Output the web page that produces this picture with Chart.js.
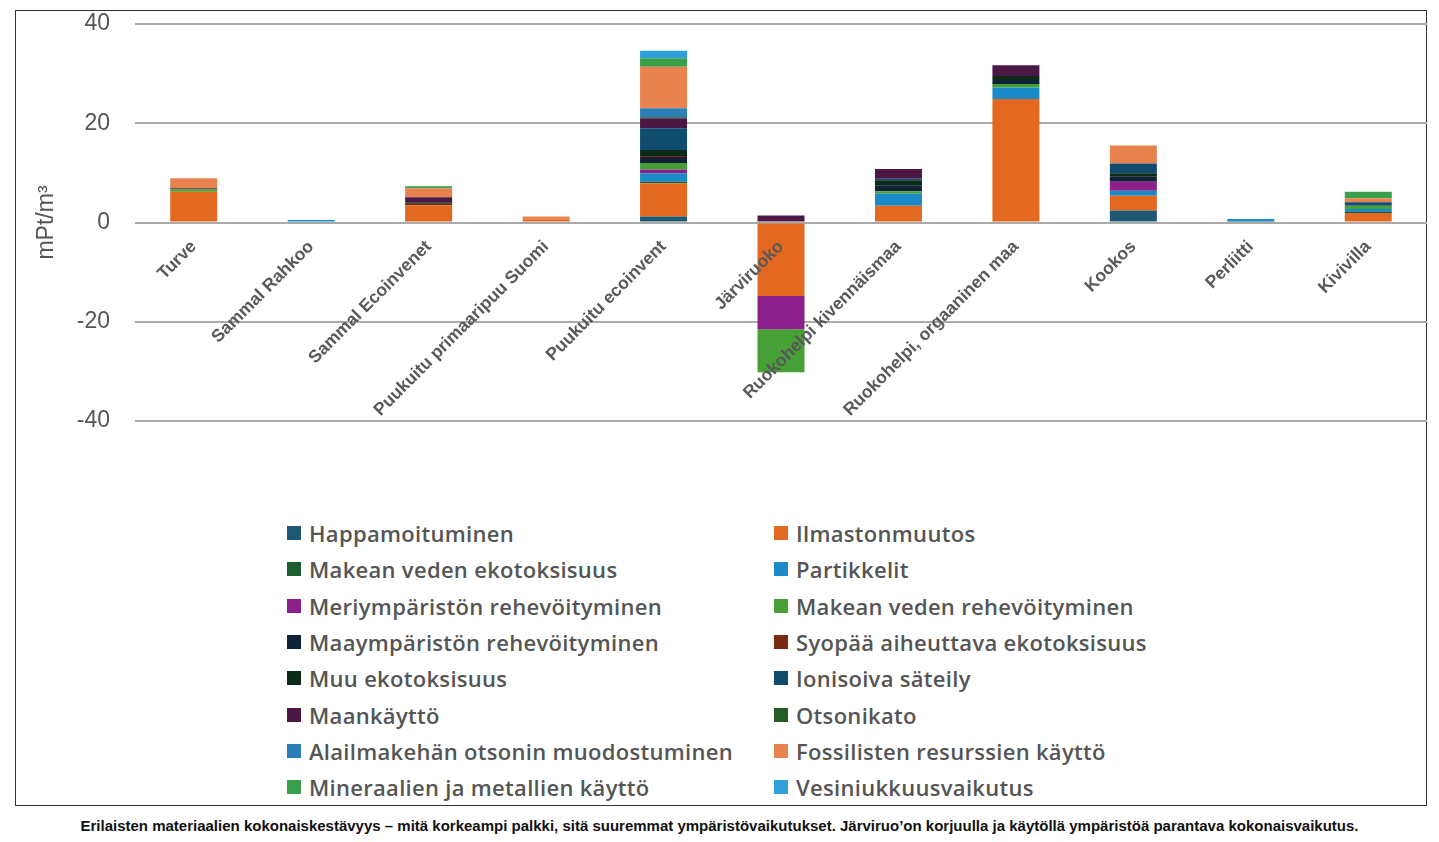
<!DOCTYPE html>
<html>
<head>
<meta charset="utf-8">
<script src="https://cdn.jsdelivr.net/npm/chart.js@4.4.1/dist/chart.umd.min.js"></script>
<style>
  body { margin: 0; background: #fff; width: 1439px; height: 842px; position: relative; overflow: hidden; }
  #frame { position: absolute; left: 15px; top: 10px; width: 1412px; height: 796px; border: 1px solid #333; box-sizing: border-box; }
  #chartBox { position: absolute; left: 0; top: 0; width: 1439px; height: 450px; }
  #legend { position: absolute; left: 287px; top: 515px; display: grid; grid-template-columns: 487px 420px; row-gap: 0; }
  .item { height: 36.3px; display: flex; align-items: center; font-family: "Open Sans", sans-serif; font-weight: 600; font-size: 22px; letter-spacing: 0.3px; color: #555; white-space: nowrap; }
  .box { width: 14px; height: 14px; margin-right: 8px; flex: none; }
  #caption { position: absolute; left: 0; width: 1439px; top: 817px; text-align: center; font-family: "Liberation Sans Narrow", "Liberation Sans", sans-serif; font-weight: bold; font-size: 15px; color: #111; }
</style>
</head>
<body>
<div id="frame"></div>
<div id="chartBox"><canvas id="chart"></canvas></div>
<div id="legend"></div>
<div id="caption">Erilaisten materiaalien kokonaiskestävyys – mitä korkeampi palkki, sitä suuremmat ympäristövaikutukset. Järviruo’on korjuulla ja käytöllä ympäristöä parantava kokonaisvaikutus.</div>
<script>
// materiaalit (x-akseli)
const materials = ['Turve', 'Sammal Rahkoo', 'Sammal Ecoinvenet', 'Puukuitu primaaripuu Suomi', 'Puukuitu ecoinvent',
  'Järviruoko', 'Ruokohelpi kivennäismaa', 'Ruokohelpi, orgaaninen maa', 'Kookos', 'Perliitti', 'Kivivilla'];
const yTicks = [-40, -20, 0, 20, 40];

// vaikutusluokat, mPt/m3 (luettu kuvasta)
const happamoituminen    = [0, 0.2, 0, 0, 1.2, 0, 0, 0, 2.4, 0.3, 0];
const ilmastonmuutos     = [6.2, 0, 3.5, 0.5, 6.7, -14.8, 3.4, 24.9, 3.0, 0, 1.9];
const makeanEkotoks      = [0, 0, 0, 0, 0.3, 0, 0, 0, 0, 0, 0.2];
const partikkelit        = [0, 0.3, 0, 0, 1.7, 0, 2.4, 2.3, 1.0, 0.4, 0.6];
const meriRehev          = [0, 0, 0, 0, 0.8, -6.7, 0, 0, 1.8, 0, 0];
const makeanRehev        = [0.5, 0, 0, 0, 1.3, -8.7, 0.5, 0.7, 0, 0, 0.7];
const maaRehev           = [0, 0, 0, 0, 1.2, 0, 1.2, 0.8, 1.0, 0, 0];
const syopaa             = [0, 0, 0.3, 0, 0.2, 0, 0, 0, 0, 0, 0];
const muuEkotoks         = [0, 0, 0.3, 0, 1.2, 0, 1.0, 0.8, 0.7, 0, 0];
const ionisoiva          = [0, 0, 0, 0, 4.4, 0, 0.3, 0, 2.0, 0, 0.7];
const maankaytto         = [0.2, 0, 1.0, 0, 2.0, 1.4, 2.0, 2.2, 0, 0, 0];
const otsonikato         = [0, 0, 0, 0, 0.2, 0, 0, 0, 0, 0, 0];
const alailmakehan       = [0, 0, 0, 0, 1.8, 0, 0, 0, 0, 0, 0];
const fossiiliset        = [2.0, 0, 1.8, 0.7, 8.4, 0, 0, 0, 3.6, 0, 0.8];
const mineraalit         = [0, 0, 0.4, 0, 1.7, 0, 0, 0, 0, 0, 1.3];
const vesiniukkuus       = [0, 0, 0, 0, 1.5, 0, 0, 0, 0, 0, 0];

const series = [
  ['Happamoituminen', happamoituminen, '#1f5873'],
  ['Ilmastonmuutos', ilmastonmuutos, '#e2691f'],
  ['Makean veden ekotoksisuus', makeanEkotoks, '#1b5e32'],
  ['Partikkelit', partikkelit, '#1a8ac9'],
  ['Meriympäristön rehevöityminen', meriRehev, '#8c1f8a'],
  ['Makean veden rehevöityminen', makeanRehev, '#46a035'],
  ['Maaympäristön rehevöityminen', maaRehev, '#0f2238'],
  ['Syopää aiheuttava ekotoksisuus', syopaa, '#7b2a12'],
  ['Muu ekotoksisuus', muuEkotoks, '#0c2a18'],
  ['Ionisoiva säteily', ionisoiva, '#104c6e'],
  ['Maankäyttö', maankaytto, '#4b1846'],
  ['Otsonikato', otsonikato, '#245c26'],
  ['Alailmakehän otsonin muodostuminen', alailmakehan, '#2b7fb6'],
  ['Fossilisten resurssien käyttö', fossiiliset, '#e8834f'],
  ['Mineraalien ja metallien käyttö', mineraalit, '#3a9f4a'],
  ['Vesiniukkuusvaikutus', vesiniukkuus, '#2fa0dc']
];

const ctx = document.getElementById('chart').getContext('2d');
const chart = new Chart(ctx, {
  type: 'bar',
  data: {
    labels: materials,
    datasets: series.map(s => ({
      label: s[0],
      data: s[1],
      backgroundColor: s[2],
      borderWidth: 0,
      barPercentage: 0.4,
      categoryPercentage: 1
    }))
  },
  options: {
    responsive: true,
    maintainAspectRatio: false,
    animation: false,
    layout: { padding: { left: 15, right: 12, top: 24, bottom: 29 } },
    plugins: { legend: { display: false }, tooltip: { enabled: false } },
    scales: {
      x: {
        stacked: true,
        position: { y: 0 },
        afterFit: (scale) => { scale.height = 0; },
        grid: { display: false },
        border: { display: false },
        ticks: {
          z: 1,
          autoSkip: false, minRotation: 45, maxRotation: 45, padding: 6,
          color: '#595959',
          font: { family: 'Liberation Sans', size: 17.5, weight: 'bold' }
        }
      },
      y: {
        stacked: true,
        min: -40, max: 40,
        afterFit: (scale) => { scale.width = 120; },
        afterBuildTicks: (scale) => { scale.ticks = yTicks.map(v => ({ value: v })); },
        grid: { color: '#aaaaaa', lineWidth: 2, drawTicks: true, tickLength: 25, tickColor: 'rgba(0,0,0,0)' },
        border: { display: false },
        ticks: {
          padding: 0, color: '#555',
          font: { family: 'Liberation Sans', size: 23 }
        },
        title: {
          display: true, text: 'mPt/m³', color: '#555',
          padding: { top: 18, bottom: 0 },
          font: { family: 'Liberation Sans', size: 23 }
        }
      }
    }
  }
});

// legenda kahteen sarakkeeseen
const legend = document.getElementById('legend');
chart.data.datasets.forEach(ds => {
  const item = document.createElement('div');
  item.className = 'item';
  const box = document.createElement('span');
  box.className = 'box';
  box.style.background = ds.backgroundColor;
  item.appendChild(box);
  item.appendChild(document.createTextNode(ds.label));
  legend.appendChild(item);
});
</script>
</body>
</html>
